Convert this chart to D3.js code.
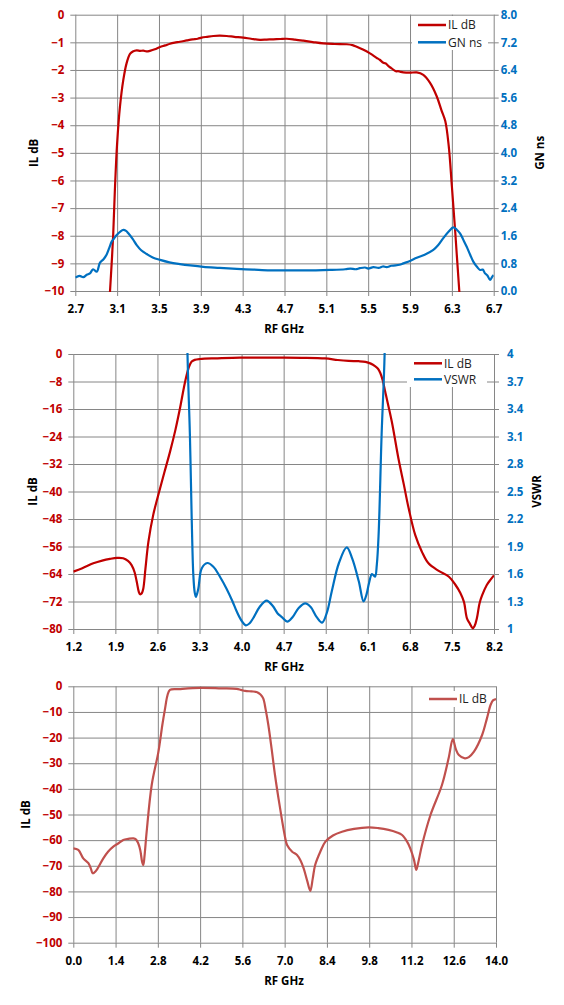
<!DOCTYPE html>
<html>
<head>
<meta charset="utf-8">
<script src="https://cdn.jsdelivr.net/npm/d3@7"></script>
<style>
body { margin: 0; background: #fff; }
svg text { font-family: "Open Sans", sans-serif; }
</style>
</head>
<body>
<div id="chart"></div>
<script>
// ---- chart 1: IL dB + group delay, 2.7 - 6.7 GHz ----
var f1IL = [3.02, 3.032, 3.063, 3.08, 3.10, 3.127, 3.159, 3.19, 3.223, 3.25, 3.287, 3.32, 3.35, 3.38, 3.42, 3.46, 3.51, 3.56, 3.605, 3.65,
  3.70, 3.765, 3.82, 3.87, 3.908, 3.96, 4.02, 4.08, 4.147, 4.22, 4.306, 4.38, 4.466, 4.53, 4.593, 4.66, 4.72, 4.80, 4.88, 4.97,
  5.07, 5.18, 5.295, 5.35, 5.39, 5.45, 5.517, 5.58, 5.61, 5.645, 5.665, 5.70, 5.72, 5.74, 5.77, 5.785, 5.81, 5.836, 5.90, 5.964,
  6.027, 6.09, 6.155, 6.20, 6.237, 6.27, 6.30, 6.333, 6.371, 6.39];
var il1 = [-10.6, -10, -7.9, -6.2, -4.65, -3.33, -2.36, -1.76, -1.42, -1.33, -1.29, -1.31, -1.30, -1.33, -1.30, -1.25, -1.17, -1.11, -1.05, -1.01,
  -0.98, -0.93, -0.89, -0.87, -0.83, -0.80, -0.77, -0.76, -0.77, -0.80, -0.83, -0.87, -0.91, -0.90, -0.89, -0.88, -0.87, -0.90, -0.94, -0.99,
  -1.04, -1.06, -1.07, -1.10, -1.16, -1.26, -1.40, -1.56, -1.63, -1.74, -1.76, -1.88, -1.93, -1.99, -2.05, -2.04, -2.07, -2.09, -2.10, -2.09,
  -2.18, -2.46, -2.95, -3.45, -3.85, -4.75, -6.2, -7.9, -10, -10.8];
var f1GN = [2.70, 2.74, 2.776, 2.81, 2.84, 2.87, 2.905, 2.936, 2.97, 3.00, 3.025, 3.048, 3.07, 3.096, 3.13, 3.16, 3.185, 3.207, 3.25, 3.287,
  3.33, 3.383, 3.44, 3.51, 3.60, 3.70, 3.80, 3.924, 4.08, 4.243, 4.40, 4.56, 4.72, 4.88, 5.00, 5.135, 5.28, 5.33, 5.38, 5.42,
  5.47, 5.50, 5.55, 5.60, 5.64, 5.677, 5.72, 5.76, 5.80, 5.836, 5.90, 5.964, 6.04, 6.123, 6.17, 6.218, 6.27, 6.314, 6.345, 6.378,
  6.41, 6.442, 6.475, 6.505, 6.54, 6.57, 6.595, 6.617, 6.64, 6.665, 6.685, 6.70];
var gn1 = [0.39, 0.44, 0.40, 0.47, 0.51, 0.63, 0.56, 0.82, 0.92, 1.06, 1.25, 1.43, 1.52, 1.62, 1.72, 1.77, 1.74, 1.67, 1.50, 1.33,
  1.18, 1.07, 0.97, 0.90, 0.83, 0.78, 0.74, 0.70, 0.67, 0.64, 0.62, 0.60, 0.60, 0.60, 0.60, 0.61, 0.63, 0.65, 0.63, 0.66,
  0.68, 0.65, 0.69, 0.67, 0.71, 0.69, 0.73, 0.74, 0.76, 0.80, 0.87, 0.96, 1.05, 1.19, 1.33, 1.53, 1.72, 1.84, 1.78, 1.67,
  1.48, 1.28, 1.05, 0.85, 0.70, 0.61, 0.62, 0.51, 0.45, 0.32, 0.41, 0.46];
var x1Ticks = [2.7, 3.1, 3.5, 3.9, 4.3, 4.7, 5.1, 5.5, 5.9, 6.3, 6.7];
var y1Ticks = [0, -1, -2, -3, -4, -5, -6, -7, -8, -9, -10];
var y1RTicks = [0, 0.8, 1.6, 2.4, 3.2, 4.0, 4.8, 5.6, 6.4, 7.2, 8.0];

// ---- chart 2: IL dB + VSWR, 1.2 - 8.2 GHz ----
var f2IL = [1.2, 1.35, 1.533, 1.68, 1.81, 1.93, 2.03, 2.11, 2.17, 2.22, 2.255, 2.29, 2.31, 2.34, 2.365, 2.40, 2.45, 2.53, 2.643, 2.73,
  2.81, 2.90, 2.975, 3.04, 3.086, 3.13, 3.17, 3.22, 3.308, 3.6, 3.974, 4.3, 4.67, 5.0, 5.39, 5.6, 5.78, 5.95, 6.06, 6.15,
  6.22, 6.27, 6.31, 6.35, 6.39, 6.50, 6.61, 6.70, 6.78, 6.89, 7.0, 7.11, 7.28, 7.45, 7.56, 7.64, 7.70, 7.75, 7.80, 7.845,
  7.88, 7.915, 7.96, 8.0, 8.08, 8.14, 8.2];
var il2 = [-63.3, -62.3, -60.9, -60.1, -59.6, -59.3, -59.4, -60.2, -61.4, -63.5, -66.2, -69.2, -69.9, -69.6, -68.2, -62.5, -54.6, -46.8, -39.1, -33.5,
  -28.4, -22.0, -15.8, -9.8, -6.1, -3.5, -2.2, -1.7, -1.45, -1.25, -1.05, -1.05, -1.05, -1.1, -1.3, -1.75, -2.0, -2.1, -2.3, -2.8,
  -3.5, -4.3, -5.6, -7.8, -11.0, -19.7, -30.4, -38.0, -44.9, -52.7, -57.5, -60.9, -63.1, -64.8, -67.2, -69.5, -72.1, -76.9, -78.5, -79.8,
  -79.0, -76.9, -72.5, -70.3, -67.2, -65.7, -64.4];
var f2VS = [3.06, 3.10, 3.14, 3.17, 3.197, 3.22, 3.24, 3.28, 3.336, 3.43, 3.53, 3.64, 3.75, 3.85, 3.92, 4.00, 4.07, 4.13, 4.195, 4.30,
  4.417, 4.52, 4.60, 4.67, 4.76, 4.85, 4.95, 5.06, 5.15, 5.25, 5.34, 5.42, 5.50, 5.62, 5.75, 5.84, 5.95, 6.03, 6.08, 6.12,
  6.17, 6.22, 6.25, 6.28, 6.33, 6.38, 6.42];
var vswr2 = [6.0, 4.0, 3.12, 2.21, 1.59, 1.40, 1.35, 1.44, 1.66, 1.72, 1.68, 1.57, 1.44, 1.30, 1.19, 1.09, 1.04, 1.06, 1.12, 1.24,
  1.31, 1.25, 1.17, 1.13, 1.08, 1.13, 1.23, 1.28, 1.24, 1.13, 1.07, 1.18, 1.41, 1.72, 1.89, 1.77, 1.52, 1.30, 1.38, 1.50,
  1.60, 1.57, 1.70, 2.03, 3.12, 4.0, 6.0];
var x2Ticks = [1.2, 1.9, 2.6, 3.3, 4.0, 4.7, 5.4, 6.1, 6.8, 7.5, 8.2];
var y2Ticks = [0, -8, -16, -24, -32, -40, -48, -56, -64, -72, -80];
var y2RTicks = [1, 1.3, 1.6, 1.9, 2.2, 2.5, 2.8, 3.1, 3.4, 3.7, 4];

// ---- chart 3: IL dB wideband, 0 - 14 GHz ----
var f3IL = [0, 0.166, 0.33, 0.5, 0.58, 0.64, 0.70, 0.775, 0.994, 1.15, 1.325, 1.5, 1.656, 1.82, 1.99, 2.08, 2.15, 2.22, 2.28, 2.32,
  2.36, 2.43, 2.597, 2.82, 2.95, 3.04, 3.12, 3.20, 3.5, 4.2, 4.9, 5.41, 5.55, 5.69, 5.9, 6.07, 6.2, 6.29, 6.37, 6.46,
  6.57, 6.68, 6.80, 6.91, 7.0, 7.08, 7.25, 7.41, 7.53, 7.63, 7.75, 7.85, 7.93, 8.01, 8.18, 8.35, 8.6, 8.9, 9.3, 9.78,
  10.1, 10.44, 10.7, 10.89, 11.05, 11.16, 11.28, 11.36, 11.42, 11.55, 11.83, 12.21, 12.43, 12.57, 12.67, 12.77, 12.97, 13.1, 13.27, 13.54,
  13.7, 13.82, 13.9, 14.0];
var il3 = [-63.2, -63.8, -67.1, -69.0, -71.0, -72.9, -72.6, -71.6, -67.1, -64.5, -62.5, -61.2, -59.9, -59.5, -59.3, -59.8, -61.2, -64, -68.5, -69.7,
  -66, -56.7, -38.5, -25.5, -15, -8.6, -3.5, -1.4, -1.1, -0.6, -0.8, -1.0, -1.4, -1.8, -2.0, -2.2, -3.2, -4.7, -9.0, -15.1,
  -24.5, -34.6, -44, -52.0, -58, -61.9, -64.5, -65.8, -68, -71.0, -76.0, -79.8, -75, -69.7, -64.5, -60.6, -58.2, -56.7, -55.6, -55.0,
  -55.3, -56.0, -56.9, -58.0, -60.5, -63.2, -67.5, -71.6, -69, -61.9, -50.2, -38.5, -28.1, -20.6, -24.5, -26.8, -28.1, -27.6, -25.5, -19.0,
  -12.5, -7.3, -5.5, -5.0];
var x3Ticks = [0, 1.4, 2.8, 4.2, 5.6, 7.0, 8.4, 9.8, 11.2, 12.6, 14.0];
var y3Ticks = [0, -10, -20, -30, -40, -50, -60, -70, -80, -90, -100];

var ROJO = '#C00000', AZUL = '#0070C0', ROJO2 = '#C0504D', GRIS = '#868686';

var svg = d3.select('#chart').append('svg')
    .attr('width', 564)
    .attr('height', 1005);

function dibujar(p) {
    var x = d3.scaleLinear().domain(p.xDom).range([p.left, p.right]);
    var y = d3.scaleLinear().domain(p.yDom).range([p.bottom, p.top]);
    var y2 = p.y2Dom ? d3.scaleLinear().domain(p.y2Dom).range([p.bottom, p.top]) : null;
    var w = p.right - p.left, h = p.bottom - p.top;
    var g = svg.append('g');

    // grid
    g.append('g').attr('class', 'grid').attr('transform', 'translate(0,' + p.bottom + ')')
        .call(d3.axisBottom(x).tickValues(p.xTicks).tickSize(-h).tickFormat(''));
    g.append('g').attr('class', 'grid').attr('transform', 'translate(' + p.left + ',0)')
        .call(d3.axisLeft(y).tickValues(p.yTicks).tickSize(-w).tickFormat(''));

    // axes with stubs and labels
    var ax = g.append('g').attr('class', 'ax').attr('transform', 'translate(0,' + p.bottom + ')')
        .call(d3.axisBottom(x).tickValues(p.xTicks).tickSize(5).tickPadding(9).tickFormat(d3.format('.1f')));
    ax.selectAll('text').attr('fill', '#000');
    var ay = g.append('g').attr('class', 'ax').attr('transform', 'translate(' + p.left + ',0)')
        .call(d3.axisLeft(y).tickValues(p.yTicks).tickSize(5).tickPadding(6).tickFormat(d3.format('d')));
    ay.selectAll('text').attr('fill', ROJO);
    if (y2) {
        var ay2 = g.append('g').attr('class', 'ax').attr('transform', 'translate(' + p.right + ',0)')
            .call(d3.axisRight(y2).tickValues(p.y2Ticks).tickSize(5).tickPadding(p.padR).tickFormat(p.fmtR));
        ay2.selectAll('text').attr('fill', AZUL);
    }
    g.selectAll('.grid .domain, .ax .domain').remove();
    g.selectAll('.grid line, .ax line').attr('stroke', GRIS).attr('stroke-width', 1);
    g.selectAll('.ax text').style('font-size', '11.5px').style('font-weight', 'bold');

    // series
    var clipId = 'clip' + p.id;
    svg.append('clipPath').attr('id', clipId).append('rect')
        .attr('x', p.left).attr('y', p.top - 1).attr('width', w).attr('height', h + 2);
    p.series.forEach(function(s) {
        var sc = s.axis == 2 ? y2 : y;
        var linea = d3.line()
            .x(function(d) { return x(d[0]); })
            .y(function(d) { return sc(d[1]); })
            .curve(d3.curveCatmullRom.alpha(0.5));
        g.append('path')
            .datum(d3.zip(s.f, s.v))
            .attr('clip-path', 'url(#' + clipId + ')')
            .attr('d', linea)
            .attr('fill', 'none')
            .attr('stroke', s.color)
            .attr('stroke-width', 2.2)
            .attr('stroke-linejoin', 'round');
    });

    // axis titles
    g.append('text').attr('transform', 'translate(' + p.tL + ',' + ((p.top + p.bottom) / 2) + ') rotate(-90)')
        .attr('text-anchor', 'middle').attr('dy', '0.35em')
        .style('font-size', '11.5px').style('font-weight', 'bold').text(p.titleL);
    if (p.titleR) {
        g.append('text').attr('transform', 'translate(' + p.tR + ',' + ((p.top + p.bottom) / 2) + ') rotate(-90)')
            .attr('text-anchor', 'middle').attr('dy', '0.35em')
            .style('font-size', '11.5px').style('font-weight', 'bold').text(p.titleR);
    }
    g.append('text').attr('x', 284).attr('y', p.tX)
        .attr('text-anchor', 'middle').attr('dy', '0.35em')
        .style('font-size', '11.5px').style('font-weight', 'bold').text('RF GHz');

    // legend
    var lg = p.legend;
    g.append('rect').attr('x', lg.x0).attr('y', lg.y0).attr('width', lg.x1 - lg.x0).attr('height', lg.y1 - lg.y0)
        .attr('fill', '#fff');
    p.series.forEach(function(s, i) {
        var yy = lg.row + i * lg.step;
        g.append('line').attr('x1', lg.lx).attr('x2', lg.lx + 28).attr('y1', yy).attr('y2', yy)
            .attr('stroke', s.color).attr('stroke-width', 2.5);
        g.append('text').attr('x', lg.lx + 30).attr('y', yy).attr('dy', '0.35em')
            .style('font-size', '12px').attr('fill', '#222').text(s.name);
    });
}

dibujar({
    id: 1, left: 75.3, right: 493.7, top: 14.7, bottom: 291,
    xDom: [2.7, 6.7], yDom: [-10, 0], y2Dom: [0, 8],
    xTicks: x1Ticks, yTicks: y1Ticks, y2Ticks: y1RTicks,
    fmtR: d3.format('.1f'), padR: 2,
    titleL: 'IL dB', titleR: 'GN ns', tL: 34, tR: 540, tX: 329,
    series: [
        {name: 'IL dB', f: f1IL, v: il1, color: ROJO, axis: 1},
        {name: 'GN ns', f: f1GN, v: gn1, color: AZUL, axis: 2}
    ],
    legend: {x0: 412, x1: 488, y0: 16, y1: 50, row: 25, step: 17.3, lx: 418}
});

dibujar({
    id: 2, left: 73.3, right: 494, top: 354, bottom: 629,
    xDom: [1.2, 8.2], yDom: [-80, 0], y2Dom: [1, 4],
    xTicks: x2Ticks, yTicks: y2Ticks, y2Ticks: y2RTicks,
    fmtR: function(d) { return String(+d.toFixed(1)); }, padR: 8,
    titleL: 'IL dB', titleR: 'VSWR', tL: 33, tR: 537, tX: 667,
    series: [
        {name: 'IL dB', f: f2IL, v: il2, color: ROJO, axis: 1},
        {name: 'VSWR', f: f2VS, v: vswr2, color: AZUL, axis: 2}
    ],
    legend: {x0: 407, x1: 487, y0: 355, y1: 387, row: 363.3, step: 16, lx: 414}
});

dibujar({
    id: 3, left: 73.3, right: 496, top: 686.3, bottom: 942.7,
    xDom: [0, 14], yDom: [-100, 0],
    xTicks: x3Ticks, yTicks: y3Ticks,
    titleL: 'IL dB', tL: 26, tX: 981,
    series: [
        {name: 'IL dB', f: f3IL, v: il3, color: ROJO2, axis: 1}
    ],
    legend: {x0: 426, x1: 488, y0: 691, y1: 707, row: 699, step: 16, lx: 429}
});
</script>
</body>
</html>
